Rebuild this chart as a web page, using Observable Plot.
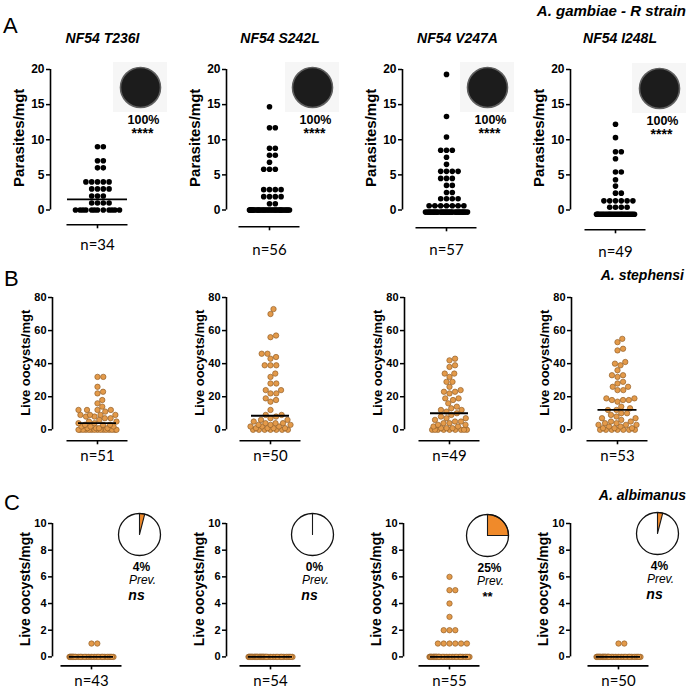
<!DOCTYPE html>
<html><head><meta charset="utf-8">
<script src="https://cdn.jsdelivr.net/npm/d3@7"></script>
<script src="https://cdn.jsdelivr.net/npm/@observablehq/plot@0.6"></script>
<style>
html,body{margin:0;padding:0;background:#fff}
#fig{position:relative;width:697px;height:692px;overflow:hidden;background:#fff}
</style></head>
<body><div id="fig"></div>
<script>
// ---------------- DATA ----------------
const strains = ["NF54 T236I", "NF54 S242L", "NF54 V247A", "NF54 I248L"];
const species = ["A. gambiae - R strain", "A. stephensi", "A. albimanus"];
const rowLetters = ["A", "B", "C"];
const yLabels = ["Parasites/mgt", "Live oocysts/mgt", "Live oocysts/mgt"];
const yTicksA = [0, 5, 10, 15, 20];
const yTicksB = [0, 20, 40, 60, 80];
const yTicksC = [0, 2, 4, 6, 8, 10];
const nA = [34, 56, 57, 49];
const nB = [51, 50, 49, 53];
const nC = [43, 54, 55, 50];
const mediansA = [1.5, 0, 0.6, -0.6];
const mediansB = [4, 8.5, 10, 12];
const mediansC = [0, 0, 0, 0];
const prevalenceA = [100, 100, 100, 100];
const prevalenceC = [4, 0, 25, 4];
const signifA = ["****", "****", "****", "****"];
const signifC = ["ns", "ns", "**", "ns"];

const valuesA1 = [9,9,7,7,6,6,4,4,4,4,4,3,3,3,3,2,2,2,1,1,1,1,0,0,0,0,0,0,0,0,0,0,0,0];
const valuesA2 = [14.7,11.7,11.7,8.8,8.8,7.8,7.8,6.8,5.8,5.8,5.8,2.9,2.9,2.9,2.9,1.9,1.9,1.9,1.9,0.9,0.9,
  0,0,0,0,0,0,0,0,0,0,0,0,0,0,0,0,0,0,0,0,0,0,0,0,0,0,0,0,0,0,0,0,0,0,0];
const valuesA3 = [19.3,13.3,10.4,8.5,8.5,8.5,7.5,6.5,5.5,5.5,5.5,5.5,4.5,4.5,4.5,3.5,3.5,2.5,2.5,1.6,1.6,1.6,1.6,
  0.6,0.6,0.6,0.6,0.6,0.6,0.6,
  -0.3,-0.3,-0.3,-0.3,-0.3,-0.3,-0.3,-0.3,-0.3,-0.3,-0.3,-0.3,-0.3,-0.3,-0.3,-0.3,-0.3,-0.3,-0.3,-0.3,-0.3,-0.3,-0.3,-0.3,-0.3,-0.3,-0.3];
const valuesA4 = [12.2,10.3,8.3,8.3,7.3,5.4,5.4,4.3,3.4,2.4,2.4,1.3,1.3,1.3,1.3,1.3,1.3,0.4,0.4,0.4,0.4,
  -0.6,-0.6,-0.6,-0.6,-0.6,-0.6,-0.6,-0.6,-0.6,-0.6,-0.6,-0.6,-0.6,-0.6,-0.6,-0.6,-0.6,-0.6,-0.6,-0.6,-0.6,-0.6,-0.6,-0.6,-0.6,-0.6,-0.6,-0.6];

const valuesB1 = [32,32,26,23,22,18,16,14,12,12,12,12,11,9,9,9,9,8,8,7,7,6,5,5,4,4,3,3,3,2,2,2,1,1,1,1,
  0,0,0,0,0,0,0,0,0,0,0,0,0,0,0];
const valuesB2 = [73,70,57,56,46,46,44,43,39,39,39,34,32,28,28,24,24,22,22,19,18,17,12,9,9,8,7,6,6,5,4,4,4,3,3,3,2,2,2,1,1,1,1,
  0,0,0,0,0,0,0];
const valuesB3 = [43,42,39,38,34,34,32,29,29,26,24,23,23,22,19,19,18,16,14,13,12,12,11,10,9,8,7,7,6,5,5,4,4,3,3,2,2,1,1,1,
  0,0,0,0,0,0,0,0,0];
const valuesB4 = [55,53,49,48,41,40,39,36,33,33,32,29,28,26,26,24,24,19,19,18,18,18,17,14,13,12,12,10,10,9,8,7,7,6,5,5,4,4,3,3,3,2,2,1,1,1,
  0,0,0,0,0,0,0];

const valuesC1 = [1,1,0,0,0,0,0,0,0,0,0,0,0,0,0,0,0,0,0,0,0,0,0,0,0,0,0,0,0,0,0,0,0,0,0,0,0,0,0,0,0,0,0];
const valuesC2 = [0,0,0,0,0,0,0,0,0,0,0,0,0,0,0,0,0,0,0,0,0,0,0,0,0,0,0,0,0,0,0,0,0,0,0,0,0,0,0,0,0,0,0,0,0,0,0,0,0,0,0,0,0,0];
const valuesC3 = [6,5,5,4,3,2,2,2,1,1,1,1,1,1,
  0,0,0,0,0,0,0,0,0,0,0,0,0,0,0,0,0,0,0,0,0,0,0,0,0,0,0,0,0,0,0,0,0,0,0,0,0,0,0,0,0];
const valuesC4 = [1,1,0,0,0,0,0,0,0,0,0,0,0,0,0,0,0,0,0,0,0,0,0,0,0,0,0,0,0,0,0,0,0,0,0,0,0,0,0,0,0,0,0,0,0,0,0,0,0,0];

// ---------------- LAYOUT ----------------
const FONT = '"Liberation Sans", Arial, Helvetica, sans-serif';
const ORANGE_DOT = "#E39A4A", ORANGE_EDGE = "#93602A", ORANGE_PIE = "#F08A2A";
const fig = document.getElementById("fig");
function place(node, left, top) {
  node.style.position = "absolute";
  node.style.left = left + "px";
  node.style.top = top + "px";
  fig.appendChild(node);
}

// beeswarm layout in pixel space
function swarm(values, k, d, half) {
  const sorted = values.map(v => v).sort((a, b) => a - b);
  const placed = [];
  for (const v of sorted) {
    const py = v * k;
    const near = placed.filter(q => Math.abs(q.py - py) < d);
    const cands = [0];
    for (const q of near) {
      const dx = Math.sqrt(d * d - (q.py - py) ** 2);
      cands.push(q.x + dx, q.x - dx);
    }
    const valid = cands.filter(x => Math.abs(x) <= half + 1e-6 &&
      near.every(q => (q.x - x) ** 2 + (q.py - py) ** 2 >= d * d - 1e-6));
    let x = 0;
    if (valid.length) {
      valid.sort((a, b) => Math.abs(a) - Math.abs(b) || b - a);
      x = valid[0];
    } else {
      let best = -1;
      for (let g = -half; g <= half + 1e-9; g += 0.5) {
        const md = Math.min(...near.map(q => (q.x - g) ** 2 + (q.py - py) ** 2));
        if (md > best + 1e-9) { best = md; x = g; }
      }
    }
    placed.push({v, py, x});
  }
  return placed;
}

function scatterPanel(o) {
  const ML = 60;
  const left = o.axisX - ML;
  const top = o.yTop - 15;
  const frameW = (o.center - o.axisX) + 40;
  const W = ML + frameW;
  const H = (o.nY - top) + 14;
  const k = (o.y0 - o.yTop) / o.ymax;
  const pts = swarm(o.values, k, o.d, o.half);
  const xmin = o.axisX - o.center;
  const toV = py => (o.y0 - py) / k;
  const dotOpts = o.orange
    ? {fill: ORANGE_DOT, stroke: ORANGE_EDGE, strokeWidth: 0.7}
    : {fill: "#000"};
  const plot = Plot.plot({
    width: W, height: H,
    marginLeft: ML, marginRight: 0, marginTop: 15, marginBottom: 10,
    x: {domain: [xmin, xmin + frameW], range: [ML, W], axis: null},
    y: {domain: [0, o.ymax], range: [o.y0 - top, o.yTop - top]},
    style: {background: "transparent", overflow: "visible", fontFamily: FONT, color: "#000"},
    marks: [
      Plot.ruleX([xmin], {y1: 0, y2: o.ymax, strokeWidth: 1.6}),
      Plot.axisY({ticks: o.ticks, tickSize: 4, tickPadding: 2, strokeWidth: 1.5,
        fontWeight: "bold", fontSize: o.tickFont, label: null}),
      Plot.text([o.yLabel], {x: o.yLabelX - o.center, y: toV(o.yLabelY), rotate: -90,
        fontWeight: "bold", fontSize: o.yLabelSize, fontFamily: FONT}),
      Plot.dot(pts, {x: "x", y: "v", r: o.r, ...dotOpts}),
      Plot.ruleY([o.median], {x1: -o.medHalf, x2: o.medHalf, strokeWidth: 1.8, stroke: "#000"}),
      Plot.ruleY([toV(o.lineY)], {x1: -30.5, x2: 30.5, strokeWidth: 1.6}),
      Plot.ruleX([0], {y1: toV(o.lineY), y2: toV(o.lineY + 4), strokeWidth: 1.6}),
      Plot.text([`n=${o.n}`], {x: 0, y: toV(o.nY), fontSize: 15, fontFamily: "Lato, 'Open Sans', sans-serif"})
    ]
  });
  place(plot, left, top);
}

function wedge(p, r) {
  const a = 2 * Math.PI * p / 100;
  const steps = Math.max(2, Math.ceil(p * 1.5));
  const pts = [{x: 0, y: 0}];
  for (let i = 0; i <= steps; i++) {
    const t = a * i / steps;
    pts.push({x: r * Math.sin(t), y: r * Math.cos(t)});
  }
  pts.push({x: 0, y: 0});
  return pts;
}

function piePanel(o) {
  const W = 80, H = 100;
  const marks = [];
  const full = o.prev >= 100;
  if (o.box) marks.push(Plot.rect([0], {x1: -27, x2: 27, y1: -25, y2: 25, fill: "#f6f6f6"}));
  marks.push(Plot.dot([0], {x: 0, y: 0, r: o.r, fill: "#fff", stroke: "none"}));
  marks.push(Plot.line(wedge(o.prev, o.r), {x: "x", y: "y",
    fill: full ? "#1c1c1c" : ORANGE_PIE,
    stroke: full ? "none" : "#1a1a1a", strokeWidth: 1.1}));
  marks.push(Plot.dot([0], {x: 0, y: 0, r: o.r, fill: "none",
    stroke: full ? "#5f5f5f" : "#111", strokeWidth: full ? 1.6 : 1.3}));
  for (const t of o.texts) {
    marks.push(Plot.text([t.t], {x: t.x, y: t.y, fontSize: t.size, fontWeight: t.weight || "normal",
      fontStyle: t.style || "normal", fontFamily: FONT}));
  }
  const plot = Plot.plot({
    width: W, height: H, margin: 0,
    x: {domain: [-40, 40], range: [0, 80], axis: null},
    y: {domain: [-72, 28], range: [100, 0], axis: null},
    style: {background: "transparent", overflow: "visible", fontFamily: FONT, color: "#000"},
    marks
  });
  place(plot, o.cx - 40, o.cy - 28);
}

const layout = {
  A: {axisX: [50, 226, 402, 570], center: [97, 269, 446, 615], yTop: 68.7, y0: 209.2,
      lineY: [224, 226, 227, 229], nY: [244, 249, 249, 251], half: [22, 20, 21, 19], medHalf: [30, 20, 19, 19],
      yLabelDX: -31, yLabelY: 137, yLabelSize: 15, tickFont: 12},
  B: {axisX: [52, 226, 404, 571], center: [97, 270, 449, 617], yTop: 296.7, y0: 429,
      lineY: [440, 440, 440, 440], nY: [455, 455, 455, 455], half: [19, 20, 18, 19], medHalf: [19, 19, 19, 19.5],
      yLabelDX: -27, yLabelY: 362, yLabelSize: 13, tickFont: 11},
  C: {axisX: [52, 226, 403, 570], center: [91, 270, 449, 618], yTop: 523.3, y0: 656.7,
      lineY: [665.7, 665.7, 665.7, 665.7], nY: [681, 681, 681, 681], half: [22, 22, 20, 22], medHalf: [22, 22, 19, 22],
      yLabelDX: -27, yLabelY: 589, yLabelSize: 14, tickFont: 11}
};

const rowsData = [
  {L: layout.A, values: [valuesA1, valuesA2, valuesA3, valuesA4], n: nA, med: mediansA, ticks: yTicksA, ymax: 20, orange: false, r: 2.8},
  {L: layout.B, values: [valuesB1, valuesB2, valuesB3, valuesB4], n: nB, med: mediansB, ticks: yTicksB, ymax: 80, orange: true, r: 2.7},
  {L: layout.C, values: [valuesC1, valuesC2, valuesC3, valuesC4], n: nC, med: mediansC, ticks: yTicksC, ymax: 10, orange: true, r: 2.7}
];

rowsData.forEach((row, ri) => {
  const L = row.L;
  for (let i = 0; i < 4; i++) {
    scatterPanel({
      axisX: L.axisX[i], center: L.center[i], yTop: L.yTop, y0: L.y0, lineY: L.lineY[i], nY: L.nY[i],
      ymax: row.ymax, ticks: row.ticks, values: row.values[i], median: row.med[i], medHalf: L.medHalf[i],
      n: row.n[i], orange: row.orange, r: row.r, d: 5.8, half: L.half[i],
      yLabel: yLabels[ri], yLabelX: L.axisX[i] + L.yLabelDX, yLabelY: L.yLabelY, yLabelSize: L.yLabelSize,
      tickFont: L.tickFont
    });
  }
});

// pies row A
const pieA = [[140, 87], [312, 87], [487, 87], [659, 88]];
pieA.forEach(([cx, cy], i) => piePanel({cx, cy, r: 20, prev: prevalenceA[i], box: true, texts: [
  {t: `${prevalenceA[i]}%`, x: 3, y: -32.5, size: 12.5, weight: "bold"},
  {t: signifA[i], x: 2, y: -46.5, size: 14, weight: "bold"}
]}));
// pies row C
const pieC = [[139, 534], [312, 534], [487, 535], [657, 533]];
pieC.forEach(([cx, cy], i) => piePanel({cx, cy, r: 21, prev: prevalenceC[i], box: false, texts: [
  {t: `${prevalenceC[i]}%`, x: 2, y: -33, size: 12, weight: "bold"},
  {t: "Prev.", x: 3, y: -46, size: 12, style: "italic"},
  signifC[i] === "ns"
    ? {t: signifC[i], x: -3, y: -61, size: 14, weight: "bold", style: "italic"}
    : {t: signifC[i], x: 0, y: -61, size: 13, weight: "bold"}
]}));

// ---------------- ANNOTATIONS (titles, letters, species) ----------------
const svg = d3.create("svg").attr("width", 697).attr("height", 692)
  .style("position", "absolute").style("left", "0px").style("top", "0px")
  .style("pointer-events", "none").attr("font-family", FONT);
const titleX = [102.5, 280, 457.5, 620];
strains.forEach((s, i) => svg.append("text").attr("x", titleX[i]).attr("y", 43)
  .attr("text-anchor", "middle").attr("font-size", 14).attr("font-weight", "bold")
  .attr("font-style", "italic").text(s));
const speciesPos = [[686, 16, 15], [684, 280, 14], [686, 500, 14]];
species.forEach((s, i) => svg.append("text").attr("x", speciesPos[i][0]).attr("y", speciesPos[i][1])
  .attr("text-anchor", "end").attr("font-size", speciesPos[i][2]).attr("font-weight", "bold")
  .attr("font-style", "italic").text(s));
const letterPos = [[3, 33], [4, 286], [4, 510]];
rowLetters.forEach((s, i) => svg.append("text").attr("x", letterPos[i][0]).attr("y", letterPos[i][1])
  .attr("font-size", 22).text(s));
fig.appendChild(svg.node());
</script>
</body></html>
